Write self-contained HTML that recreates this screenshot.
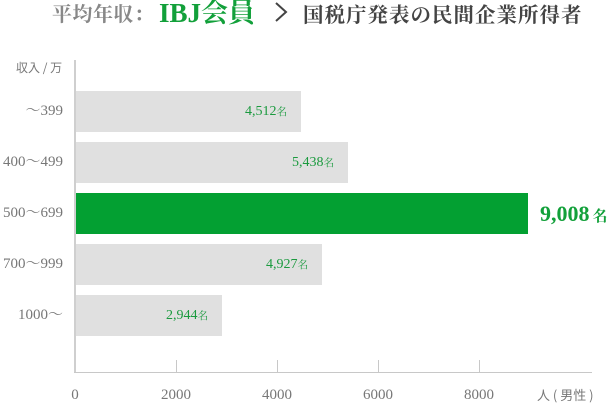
<!DOCTYPE html>
<html><head><meta charset="utf-8"><style>
*{margin:0;padding:0;box-sizing:border-box}
body{width:613px;height:403px;background:#fff;position:relative;overflow:hidden;font-family:"Liberation Serif","Noto Serif CJK SC",serif}
.a{position:absolute;white-space:nowrap}
.bar{position:absolute;left:76px;height:41px;background:#e0e0e0}
.val{position:absolute;right:14px;top:0;height:41px;line-height:41px;color:#1a9a3e;font-size:14px}
.val span{font-size:10.5px;font-family:"Noto Serif CJK SC",serif}
.yl{position:absolute;right:550px;width:70px;text-align:right;color:#777;font-size:15px;line-height:20px}
.xl{position:absolute;top:385px;width:60px;text-align:center;color:#777;font-size:15px;line-height:20px}
</style></head><body>
<div class="a" style="left:52px;top:0;height:26px;line-height:26px;font-size:20px;color:#888;font-family:'Noto Serif CJK SC',serif;font-weight:bold;letter-spacing:0.5px">平均年収：</div>
<div class="a" style="left:159px;top:-2px;height:30px;line-height:30px;font-size:27px;color:#12a03a;font-family:'Liberation Serif','Noto Serif CJK SC',serif;font-weight:bold">IBJ会員</div>
<svg class="a" style="left:270px;top:0" width="24" height="26"><polyline points="6,3 16,12 6,21" fill="none" stroke="#444" stroke-width="2"/></svg>
<div class="a" style="left:303px;top:0;height:26px;line-height:26px;font-size:20.5px;color:#444;font-family:'Noto Serif CJK SC',serif;font-weight:bold;letter-spacing:1px">国税庁発表の民間企業所得者</div>

<div class="a" style="left:16px;top:60px;font-size:12px;line-height:16px;color:#777;font-family:'Noto Sans CJK JP',sans-serif">収入 / 万</div>

<div style="position:absolute;left:74px;top:60px;width:2px;height:313px;background:#cfcfcf"></div>
<div style="position:absolute;left:74px;top:372px;width:518px;height:1px;background:#c8c8c8"></div>
<div style="position:absolute;left:176px;top:360px;width:1px;height:12px;background:#c8c8c8"></div>
<div style="position:absolute;left:277px;top:360px;width:1px;height:12px;background:#c8c8c8"></div>
<div style="position:absolute;left:378px;top:360px;width:1px;height:12px;background:#c8c8c8"></div>
<div style="position:absolute;left:479px;top:360px;width:1px;height:12px;background:#c8c8c8"></div>

<div class="bar" style="top:91px;width:225px"><div class="val">4,512<span>名</span></div></div>
<div class="bar" style="top:142px;width:272px"><div class="val">5,438<span>名</span></div></div>
<div class="bar" style="top:193px;width:452px;background:#03a032"></div>
<div class="a" style="left:540px;top:199px;height:30px;line-height:30px;font-size:22px;font-weight:bold;color:#12a03a">9,008<span style="font-size:15px;font-family:'Noto Serif CJK SC',serif;margin-left:3px">名</span></div>
<div class="bar" style="top:244px;width:246px"><div class="val">4,927<span>名</span></div></div>
<div class="bar" style="top:295px;width:146px"><div class="val">2,944<span>名</span></div></div>

<div class="yl" style="top:101px">〜399</div>
<div class="yl" style="top:152px">400〜499</div>
<div class="yl" style="top:203px">500〜699</div>
<div class="yl" style="top:254px">700〜999</div>
<div class="yl" style="top:305px">1000〜</div>

<div class="xl" style="left:45px">0</div>
<div class="xl" style="left:146px">2000</div>
<div class="xl" style="left:247px">4000</div>
<div class="xl" style="left:348px">6000</div>
<div class="xl" style="left:449px">8000</div>
<div class="a" style="left:537px;top:386px;font-size:13px;line-height:18px;color:#777;font-family:'Noto Sans CJK JP',sans-serif">人 ( 男性 )</div>
</body></html>
